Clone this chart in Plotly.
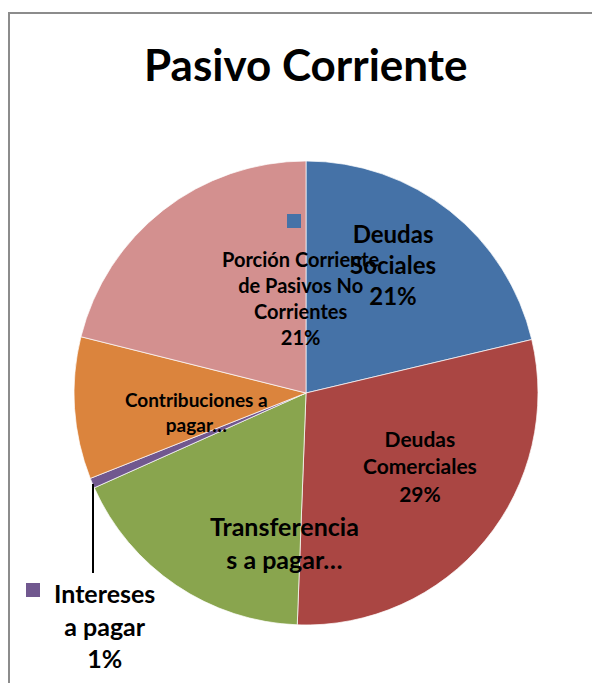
"""
Pasivo Corriente - gráfico de torta
"""

import plotly.graph_objects as go

# datos
categorias = [
    "Deudas Sociales",
    "Deudas Comerciales",
    "Transferencias a pagar",
    "Intereses a pagar",
    "Contribuciones a pagar",
    "Porción Corriente de Pasivos No Corrientes",
]
valores = [21.3, 29.3, 17.7, 0.7, 9.9, 21.1]
colores = ["#4572A7", "#AA4643", "#89A54E", "#71588F", "#DB843D", "#D3908F"]

W, H = 600, 683
OFF = 8  # margen del body de la página
FONT = "Lato"


def px(x, y):
    """pixel de la imagen -> coordenadas paper"""
    return (x - OFF) / W, 1 - (y - OFF) / H


fig = go.Figure()

d0 = px(74, 625)
d1 = px(538, 161)
fig.add_trace(
    go.Pie(
        labels=categorias,
        values=valores,
        sort=False,
        direction="clockwise",
        rotation=0,
        marker=dict(colors=colores, line=dict(color="rgba(255,255,255,0.7)", width=1)),
        textinfo="none",
        hoverinfo="label+percent",
        showlegend=False,
        domain=dict(x=[d0[0], d1[0]], y=[d0[1], d1[1]]),
    )
)

# etiquetas (posición, texto, tamaño)
etiquetas = [
    (393, 264, "Deudas<br>Sociales<br>21%", 24),
    (420, 466, "Deudas<br>Comerciales<br>29%", 21),
    (284, 542, "Transferencia<br>s a pagar…", 25),
    (196, 412, "Contribuciones a<br>pagar…", 19),
    (301, 298, "Porción Corriente<br>de Pasivos No<br>Corrientes<br>21%", 20),
    (104, 625, "Intereses<br>a pagar<br>1%", 25),
]

annotations = []
for x, y, txt, size in etiquetas:
    ax, ay = px(x, y)
    annotations.append(
        dict(
            x=ax, y=ay, xref="paper", yref="paper",
            text="<b>" + txt + "</b>",
            showarrow=False,
            align="center",
            xanchor="center", yanchor="middle",
            font=dict(family=FONT, size=size, color="black"),
        )
    )

# título
tx, ty = px(306, 64)
annotations.append(
    dict(
        x=tx, y=ty, xref="paper", yref="paper",
        text="<b>Pasivo Corriente</b>",
        showarrow=False,
        xanchor="center", yanchor="middle",
        font=dict(family=FONT, size=44, color="black"),
    )
)

shapes = []
# borde del área del gráfico (el lado izquierdo queda justo dentro del lienzo)
x0, y0 = px(OFF + 1, 13)
x1, y1 = px(640, 720)
shapes.append(dict(type="rect", xref="paper", yref="paper",
                   x0=x0, y0=y1, x1=x1, y1=y0,
                   line=dict(color="#8C8C8C", width=2)))

# llaves de leyenda
for cx, cy, col in [(294, 221, colores[0]), (33, 590, colores[3])]:
    a0, b0 = px(cx - 7, cy - 7)
    a1, b1 = px(cx + 7, cy + 7)
    shapes.append(dict(type="rect", xref="paper", yref="paper",
                       x0=a0, y0=b1, x1=a1, y1=b0,
                       fillcolor=col, line=dict(width=0)))

# línea guía de Intereses
l0 = px(93, 484)
l1 = px(93, 573)
shapes.append(dict(type="line", xref="paper", yref="paper",
                   x0=l0[0], y0=l0[1], x1=l1[0], y1=l1[1],
                   line=dict(color="black", width=2)))

fig.update_layout(
    width=W,
    height=H,
    margin=dict(l=0, r=0, t=0, b=0),
    paper_bgcolor="white",
    plot_bgcolor="white",
    annotations=annotations,
    shapes=shapes,
)

fig.write_html("out.html")
